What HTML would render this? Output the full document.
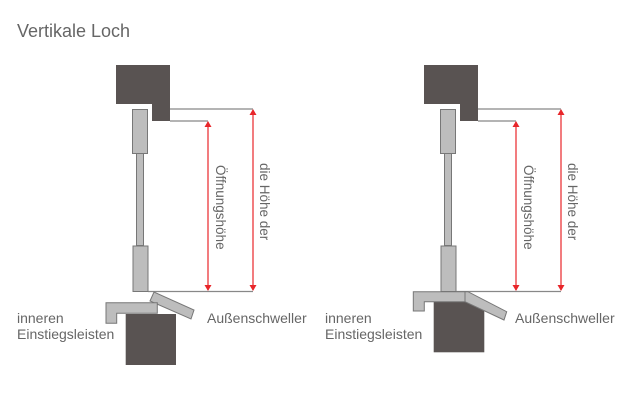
<!DOCTYPE html>
<html><head><meta charset="utf-8"><style>
html,body{margin:0;padding:0;background:#fff;}
svg{display:block;}
text{font-family:"Liberation Sans",sans-serif;fill:#666;}
</style></head><body>
<svg width="634" height="404" viewBox="0 0 634 404" xmlns="http://www.w3.org/2000/svg">
<text x="17" y="37" font-size="18">Vertikale Loch</text>
<g id="L">
<path d="M170,109 H253 M170,121 H208 M148,291.5 H253" stroke="#888" stroke-width="1.3" fill="none"/>
<path d="M116,65 H170 V121 H152 V104 H116Z" fill="#595352"/>
<rect x="132.5" y="109.5" width="15" height="44" fill="#bdbdbd" stroke="#777" stroke-width="1"/>
<rect x="136.5" y="153.5" width="7" height="92" fill="#bdbdbd" stroke="#777" stroke-width="1"/>
<rect x="133" y="246" width="15" height="45.5" fill="#bdbdbd" stroke="#777" stroke-width="1"/>
<line x1="208" y1="122" x2="208" y2="290" stroke="#e8262a" stroke-width="1.2"/>
<line x1="253" y1="110" x2="253" y2="290" stroke="#e8262a" stroke-width="1.2"/>
<path d="M208,121 L204.5,127 H211.5Z M253,109 L249.5,115 H256.5Z M208,291 L204.5,285 H211.5Z M253,291 L249.5,285 H256.5Z" fill="#e8262a"/>
<text transform="translate(216,165) rotate(90)" font-size="13.5">Öffnungshöhe</text>
<text transform="translate(260,163) rotate(90)" font-size="13.5">die Höhe der</text>
</g>
<path d="M150,301 L154,292 L194,310 L191,319Z" fill="#bdbdbd" stroke="#777"/>
<path d="M106,302.7 H157.3 V313.3 H116.7 V323.3 H106Z" fill="#bdbdbd" stroke="#777"/>
<rect x="125.7" y="314" width="50.3" height="51" fill="#595352"/>
<text x="17" y="323" font-size="14">inneren</text>
<text x="17" y="339" font-size="14">Einstiegsleisten</text>
<text x="207" y="323" font-size="14">Außenschweller</text>
<use href="#L" transform="translate(308,0)"/>
<rect x="433.7" y="301" width="50.6" height="51.3" fill="#595352"/>
<path d="M465,291.7 L468,291.7 L506.7,311.7 L504,320 L465,301.7Z" fill="#bdbdbd" stroke="#777"/>
<path d="M413.3,291.7 H465 V301.7 H424.3 V311 H413.3Z" fill="#bdbdbd" stroke="#777"/>
<text x="325" y="323" font-size="14">inneren</text>
<text x="325" y="339" font-size="14">Einstiegsleisten</text>
<text x="515" y="323" font-size="14">Außenschweller</text>
</svg>
</body></html>
